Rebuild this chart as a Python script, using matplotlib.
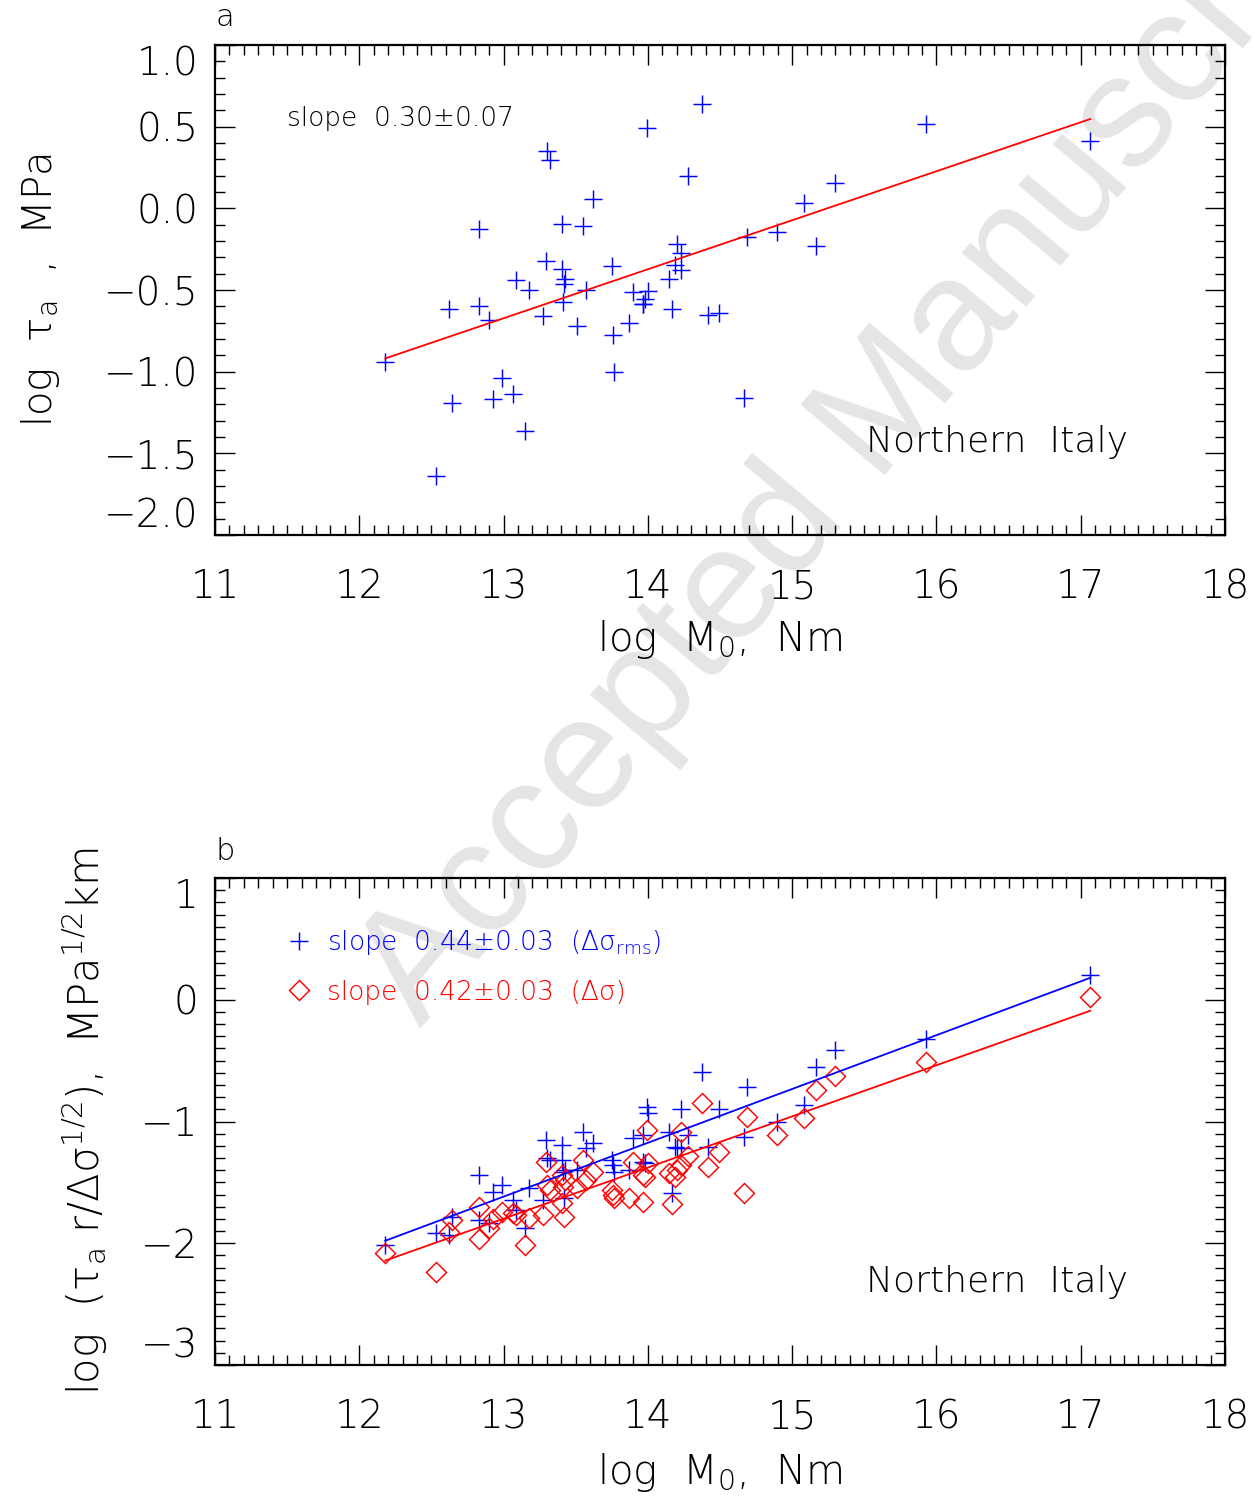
import numpy as np
import matplotlib
matplotlib.use('Agg')
import matplotlib.pyplot as plt
from matplotlib.ticker import MultipleLocator, FixedLocator, FuncFormatter

# ---------------- data ----------------
log_m0 = [12.18, 12.534, 12.62, 12.642, 12.83, 12.832, 12.90, 12.929, 12.989, 13.067,
          13.086, 13.148, 13.174, 13.271, 13.294, 13.30, 13.32, 13.405, 13.405, 13.41,
          13.42, 13.423, 13.511, 13.548, 13.571, 13.62, 13.753, 13.76, 13.767, 13.871,
          13.899, 13.964, 13.968, 13.98, 13.996, 14.003, 14.148, 14.165, 14.188, 14.20,
          14.227, 14.227, 14.28, 14.377, 14.419, 14.493, 14.668, 14.689, 14.897, 15.084,
          15.163, 15.299, 15.927, 17.066]

log_tau_a = [-0.942, -1.640, -0.617, -1.193, -0.129, -0.596, -0.686, -1.166, -1.040, -1.135,
             -0.441, -1.366, -0.503, -0.660, -0.325, 0.348, 0.298, -0.094, -0.374, -0.574,
             -0.466, -0.435, -0.721, -0.109, -0.503, 0.055, -0.356, -0.778, -0.999, -0.700,
             -0.513, -0.584, -0.588, -0.555, 0.491, -0.507, -0.431, -0.619, -0.345, -0.221,
             -0.274, -0.376, 0.201, 0.641, -0.656, -0.639, -1.162, -0.176, -0.146, 0.034,
             -0.233, 0.157, 0.518, 0.414]

log_scaled_rms = [-2.014, -1.916, -1.932, -1.784, -1.439, -1.809, -1.834, -1.579, -1.522, -1.645,
                  -1.727, -1.875, -1.546, -1.645, -1.152, -1.300, -1.316, -1.193, -1.316, -1.415,
                  -1.628, -1.398, -1.398, -1.086, -1.218, -1.177, -1.316, -1.357, -1.415, -1.398,
                  -1.136, -1.333, -1.111, -1.341, -0.881, -0.930, -1.086, -1.587, -1.209, -1.218,
                  -0.897, -1.218, -1.111, -0.593, -1.209, -0.897, -1.127, -0.717, -1.004, -0.864,
                  -0.552, -0.413, -0.322, 0.203]

log_scaled_ds = [-2.080, -2.236, -1.908, -1.809, -1.702, -1.965, -1.875, -1.801, -1.743, -1.752,
                 -1.768, -2.014, -1.793, -1.768, -1.333, -1.522, -1.563, -1.439, -1.669, -1.538,
                 -1.784, -1.480, -1.546, -1.316, -1.480, -1.415, -1.563, -1.604, -1.628, -1.628,
                 -1.333, -1.661, -1.439, -1.456, -1.070, -1.341, -1.423, -1.678, -1.456, -1.398,
                 -1.086, -1.357, -1.283, -0.848, -1.374, -1.251, -1.587, -0.963, -1.111, -0.971,
                 -0.741, -0.626, -0.511, 0.023]

# fitted lines y = c0 + c1 * x
fit_a = [-4.573, 0.30]
fit_b_rms = [-7.363, 0.442]
fit_b_ds = [-7.258, 0.42]

slope_a_text = "slope  0.30\u00b10.07"
slope_rms_text = "slope  0.44\u00b10.03  (\u0394\u03c3$_{\\rm rms}$)"
slope_ds_text = "slope  0.42\u00b10.03  (\u0394\u03c3)"
region = "Northern  Italy"

xticks = [11, 12, 13, 14, 15, 16, 17, 18]
yticks_a = [-2.0, -1.5, -1.0, -0.5, 0.0, 0.5, 1.0]
yticks_b = [-3, -2, -1, 0, 1]

# ---------------- style ----------------
FONT = 'DejaVu Sans'
WT = 200
plt.rcParams['font.family'] = [FONT]
plt.rcParams['font.weight'] = WT
plt.rcParams['mathtext.fontset'] = 'custom'
plt.rcParams['mathtext.rm'] = 'DejaVu Sans:weight=200'
plt.rcParams['mathtext.it'] = 'DejaVu Sans:style=oblique:weight=400'
plt.rcParams['mathtext.default'] = 'rm'
plt.rcParams['axes.unicode_minus'] = True

W, H = 1255, 1502
fig = plt.figure(figsize=(W / 100, H / 100), dpi=100)

# watermark behind everything
fig.text(0.692, 0.713, 'Accepted Manuscript', rotation=50, fontsize=115,
         color='#e5e5e5', family='Liberation Sans', ha='center', va='center',
         rotation_mode='anchor', zorder=-5)

ax_a = fig.add_axes([215 / W, 1 - 535 / H, 1010 / W, 490 / H])
ax_b = fig.add_axes([215 / W, 1 - 1365 / H, 1010 / W, 487 / H])

TICK_FS = 28
LAB_FS = 29


def minus(s):
    return s.replace('-', '\u2212')


def style_axes(ax, yticks, yfmt, ylim):
    ax.set_facecolor('none')
    ax.set_xlim(11, 18)
    ax.set_ylim(*ylim)
    ax.xaxis.set_major_locator(FixedLocator(xticks))
    ax.xaxis.set_minor_locator(MultipleLocator(0.1))
    ax.yaxis.set_major_locator(FixedLocator(yticks))
    ax.yaxis.set_minor_locator(MultipleLocator(0.1))
    ax.xaxis.set_major_formatter(FuncFormatter(lambda v, p: minus('%d' % round(v))))
    ax.yaxis.set_major_formatter(
        FuncFormatter(lambda v, p: minus(yfmt % v) if abs(v) > 1e-9 else yfmt % 0))
    ax.tick_params(which='both', direction='in', top=True, right=True,
                   labelsize=TICK_FS, width=1.0, color='black')
    ax.tick_params(which='major', length=14.5)
    ax.tick_params(which='minor', length=7.2)
    ax.tick_params(axis='x', pad=24)
    ax.tick_params(axis='y', pad=12)
    for sp in ax.spines.values():
        sp.set_linewidth(1.6)
    for lab in ax.get_xticklabels() + ax.get_yticklabels():
        lab.set_fontweight(WT)
    labs = ax.get_yticklabels()
    labs[0].set_va('bottom')
    labs[-1].set_va('top')


style_axes(ax_a, yticks_a, '%.1f', (-2.0, 1.0))
style_axes(ax_b, yticks_b, '%d', (-3.0, 1.0))

x = np.array(log_m0)
xline = np.array([x.min(), x.max()])

# ---- panel a ----
ax_a.plot(x, log_tau_a, linestyle='none', marker='+', markersize=13,
          markeredgewidth=1.05, color='#0000ff', zorder=3)
ax_a.plot(xline, fit_a[0] + fit_a[1] * xline, color='#ff0000', lw=1.3, zorder=4)
ax_a.text(0.0713, 0.851, slope_a_text, transform=ax_a.transAxes, fontsize=19,
          ha='left', va='center', color='black', fontweight=WT)
ax_a.text(0.904, 0.19, region, transform=ax_a.transAxes, fontsize=26,
          ha='right', va='center', color='black', fontweight=WT)
ax_a.set_xlabel('log  M$_0$,  Nm', fontsize=LAB_FS, fontweight=WT)
ax_a.set_ylabel('log  \u03c4$_{\\rm a}$  ,  MPa', fontsize=LAB_FS, fontweight=WT)
ax_a.xaxis.set_label_coords(0.5, -0.214)
ax_a.yaxis.set_label_coords(-0.173, 0.5)
ax_a.xaxis.label.set_va('center')
ax_a.yaxis.label.set_va('center')
fig.text(225 / W, 1 - 18 / H, 'a', fontsize=22, ha='center', va='center', fontweight=WT)

# ---- panel b ----
h_rms, = ax_b.plot(x, log_scaled_rms, linestyle='none', marker='+', markersize=13,
                   markeredgewidth=1.05, color='#0000ff', zorder=3)
h_ds, = ax_b.plot(x, log_scaled_ds, linestyle='none', marker='D', markersize=10,
                  markeredgewidth=1.05, markerfacecolor='none', markeredgecolor='#ff0000', zorder=3)
ax_b.plot(xline, fit_b_rms[0] + fit_b_rms[1] * xline, color='#0000ff', lw=1.3, zorder=4)
ax_b.plot(xline, fit_b_ds[0] + fit_b_ds[1] * xline, color='#ff0000', lw=1.3, zorder=4)
leg = ax_b.legend([h_rms, h_ds], [slope_rms_text, slope_ds_text], loc='upper left',
                  bbox_to_anchor=(0.070, 0.897), frameon=False, fontsize=19,
                  handlelength=1.0, handletextpad=0.55, labelspacing=0.85, borderpad=0,
                  borderaxespad=0)
for t, c in zip(leg.get_texts(), ['#0000ff', '#ff0000']):
    t.set_color(c)
    t.set_fontweight(WT)
ax_b.text(0.904, 0.17, region, transform=ax_b.transAxes, fontsize=26,
          ha='right', va='center', color='black', fontweight=WT)
ax_b.set_xlabel('log  M$_0$,  Nm', fontsize=LAB_FS, fontweight=WT)
ax_b.set_ylabel('log  (\u03c4$_{\\rm a}$ r/\u0394\u03c3$^{1/2}$),  MPa$^{1/2}$km',
                fontsize=30, fontweight=WT)
ax_b.xaxis.set_label_coords(0.5, -0.22)
ax_b.yaxis.set_label_coords(-0.129, 0.5)
ax_b.xaxis.label.set_va('center')
ax_b.yaxis.label.set_va('center')
fig.text(225 / W, 1 - 852 / H, 'b', fontsize=22, ha='center', va='center', fontweight=WT)

fig.savefig('out.png', dpi=100)
